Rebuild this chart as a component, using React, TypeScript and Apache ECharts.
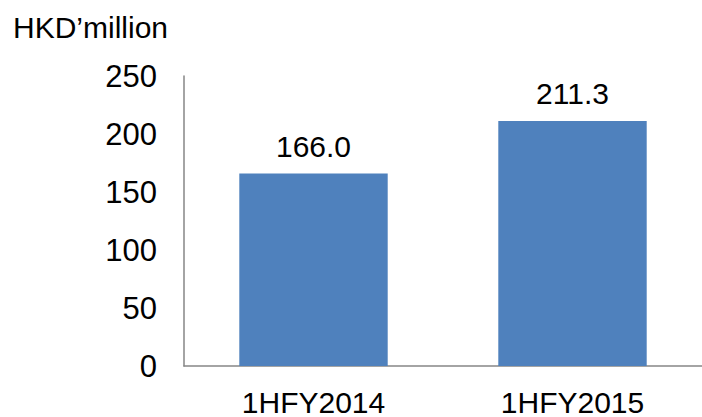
import React, { useEffect, useRef } from "react";
import * as echarts from "echarts";

const categories = ["1HFY2014", "1HFY2015"];
const values = [166.0, 211.3];
const unitLabel = "HKD\u2019million";

export default function App() {
  const ref = useRef<HTMLDivElement>(null);
  useEffect(() => {
    if (!ref.current) return;
    const chart = echarts.init(ref.current, null, { renderer: "svg" });
    const font = "'Liberation Sans', Arial, sans-serif";
    chart.setOption({
      animation: false,
      backgroundColor: "#ffffff",
      textStyle: { fontFamily: font },
      graphic: [
        {
          type: "text",
          left: 13,
          top: 12,
          style: { text: unitLabel, fontSize: 30, fill: "#000", fontFamily: font },
        },
      ],
      grid: { left: 184, top: 76, width: 520, bottom: 50, containLabel: false },
      xAxis: {
        type: "category",
        data: categories,
        axisLine: { lineStyle: { color: "#868686", width: 1.5 } },
        axisTick: { show: false },
        axisLabel: { color: "#000", fontSize: 30, margin: 21, fontFamily: font },
      },
      yAxis: {
        type: "value",
        min: 0,
        max: 250,
        interval: 50,
        splitLine: { show: false },
        axisLine: { show: true, lineStyle: { color: "#868686", width: 1.5 } },
        axisTick: { show: false },
        axisLabel: { color: "#000", fontSize: 31, margin: 27, fontFamily: font },
      },
      series: [
        {
          type: "bar",
          data: values,
          barWidth: "57.3%",
          itemStyle: { color: "#4F81BD" },
          label: {
            show: true,
            position: "top",
            distance: 12,
            color: "#000",
            fontSize: 30,
            fontFamily: font,
            formatter: (p: any) => Number(p.value).toFixed(1),
          },
        },
      ],
    });
    return () => chart.dispose();
  }, []);
  return (
    <div
      ref={ref}
      style={{ position: "fixed", left: 0, top: 0, width: 702, height: 417 }}
    />
  );
}
